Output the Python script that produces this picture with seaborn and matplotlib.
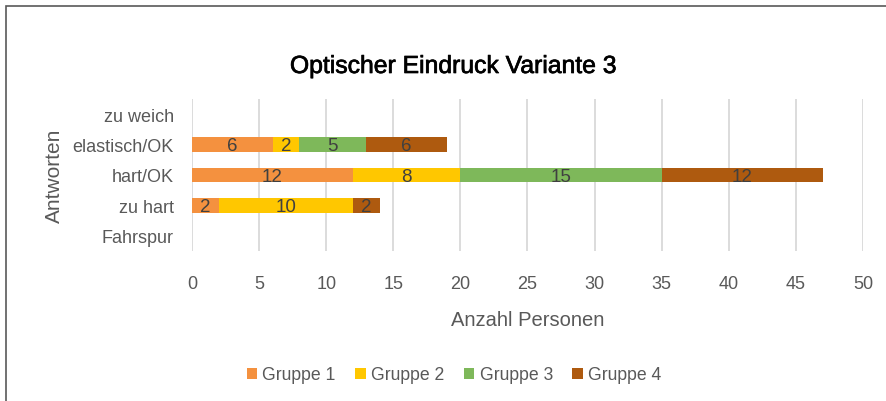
import matplotlib
matplotlib.use("Agg")
import matplotlib.pyplot as plt
from matplotlib.patches import Patch, Rectangle
import matplotlib.patheffects as pe
import numpy as np
import pandas as pd
import seaborn as sns

# Survey answers (top to bottom) and the count per group
answers = ["zu weich", "elastisch/OK", "hart/OK", "zu hart", "Fahrspur"]
groups = ["Gruppe 1", "Gruppe 2", "Gruppe 3", "Gruppe 4"]
gruppe1 = [0, 6, 12, 2, 0]
gruppe2 = [0, 2, 8, 10, 0]
gruppe3 = [0, 5, 15, 0, 0]
gruppe4 = [0, 6, 12, 2, 0]
x_ticks = [0, 5, 10, 15, 20, 25, 30, 35, 40, 45, 50]

colors = ["#F4913F", "#FFC700", "#7EB85A", "#AE5A0F"]
text_gray = "#595959"

sns.set_theme(style="white")
plt.rcParams["font.family"] = ["Liberation Sans", "DejaVu Sans"]

series = [gruppe1, gruppe2, gruppe3, gruppe4]
values = np.array(series, dtype=float)
cum = np.cumsum(values, axis=0)

df = pd.DataFrame({"Antwort": answers})
for g, c in zip(groups, cum):
    df[g] = c

fig = plt.figure(figsize=(8.87, 4.02), dpi=100)
ax = fig.add_axes([192 / 887, 1 - 252 / 402, 671 / 887, 152 / 402])

# Stacked bars: draw cumulative totals from the outermost layer inward
for i in range(len(groups) - 1, -1, -1):
    sns.barplot(data=df, x=groups[i], y="Antwort", order=answers, orient="h",
                color=colors[i], width=0.47, saturation=1, ax=ax,
                edgecolor="none", linewidth=0, zorder=3)

# Segment value labels
for i, g in enumerate(groups):
    for j, v in enumerate(values[i]):
        if v > 0:
            ax.text(cum[i][j] - v / 2, j + 0.04, f"{int(v)}", ha="center", va="center",
                    fontsize=13.5, color="#404040", zorder=4)

ax.set_xlim(0, 50)
ax.set_ylim(4.5, -0.5)
ax.set_xticks(x_ticks)
ax.xaxis.grid(True, color="#D9D9D9", linewidth=1.3, zorder=0)
ax.yaxis.grid(False)
for s in ax.spines.values():
    s.set_visible(False)
ax.tick_params(axis="x", length=0, pad=17, labelsize=13, labelcolor=text_gray)
ax.tick_params(axis="y", length=0, pad=13, labelsize=13, labelcolor=text_gray)
ax.set_xlabel("Anzahl Personen", fontsize=14.5, color=text_gray, labelpad=13)
ax.set_ylabel("Antworten", fontsize=15, color=text_gray, labelpad=6)

title = fig.text(453 / 887, 1 - 67 / 402, "Optischer Eindruck Variante 3", ha="center",
                 va="center", fontsize=17.8, color="black")
title.set_path_effects([pe.withStroke(linewidth=0.5, foreground="black")])

handles = [Patch(facecolor=c, edgecolor="none", label=g) for g, c in zip(groups, colors)]
fig.legend(handles=handles, loc="center", bbox_to_anchor=(454 / 887, 1 - 376 / 402),
           ncol=4, frameon=False, fontsize=12.7, labelcolor=text_gray,
           handlelength=0.6, handleheight=0.6, handletextpad=0.3, columnspacing=1.1)

# Chart frame
fig.add_artist(Rectangle((6 / 887, -0.1), 1.2, 1 - 7 / 402 + 0.1,
                         transform=fig.transFigure, fill=False,
                         edgecolor="#595959", linewidth=1.2))

fig.savefig("out.png", dpi=100)
